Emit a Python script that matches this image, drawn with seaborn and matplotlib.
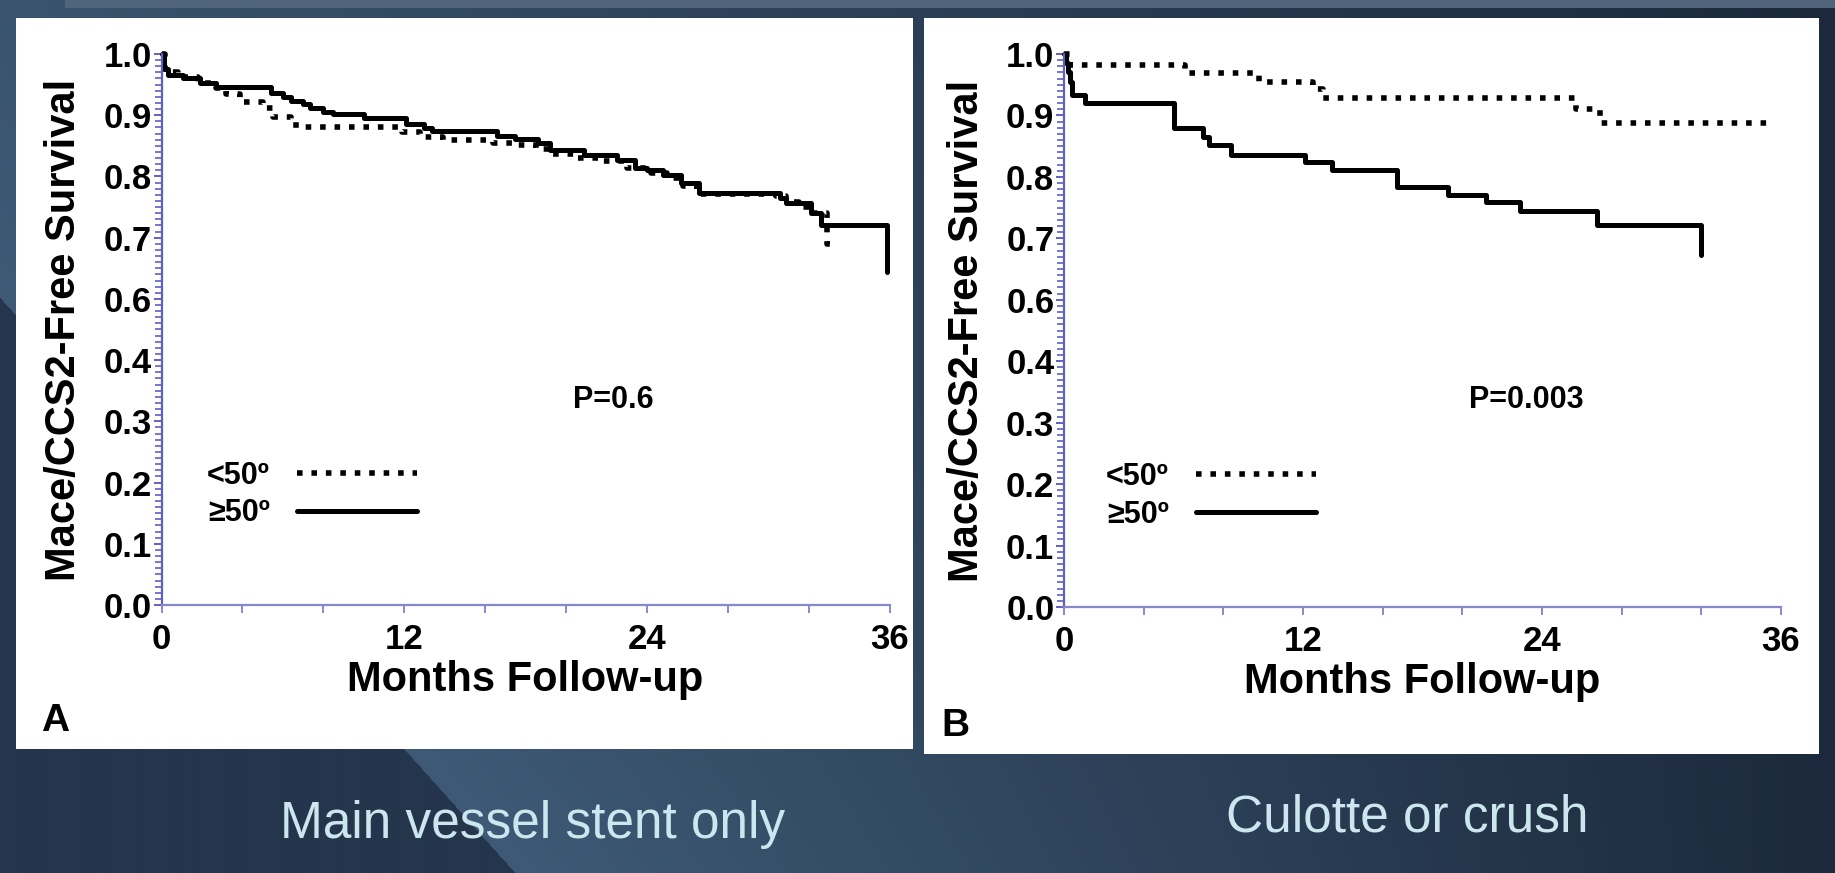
import numpy as np
import pandas as pd
import matplotlib
matplotlib.use("Agg")
import matplotlib.pyplot as plt
import seaborn as sns
from matplotlib.patches import Rectangle

# ---------------- data ----------------
# Panel A: main vessel stent only
a_lt50_t = [0, 0.15, 0.8, 1.8, 2.7, 3.2, 3.9, 5.0, 5.5, 6.4, 6.8, 11.9, 12.8, 13.9, 16.4,
            17.5, 18.5, 19.3, 20.5, 21.8, 23.0, 24.2, 25.0, 25.8, 26.5, 30.4, 30.9, 31.5,
            32.2, 32.9, 33.1]
a_lt50_s = [1.0, 0.970, 0.963, 0.953, 0.945, 0.935, 0.922, 0.912, 0.897, 0.884, 0.881, 0.872,
            0.865, 0.859, 0.855, 0.851, 0.845, 0.836, 0.830, 0.825, 0.813, 0.805, 0.797, 0.785,
            0.772, 0.768, 0.758, 0.750, 0.740, 0.690, 0.690]
a_ge50_t = [0, 0.1, 0.3, 1.07, 1.9, 2.7, 5.4, 6.0, 6.4, 7.0, 7.35, 8.0, 8.5, 10.0, 12.1, 13.0,
            13.4, 16.6, 17.5, 18.6, 19.2, 20.9, 22.5, 23.4, 24.0, 24.8, 25.7, 26.6, 30.6, 30.9,
            32.1, 32.6, 35.9]
a_ge50_s = [1.0, 0.975, 0.965, 0.960, 0.952, 0.946, 0.937, 0.930, 0.924, 0.918, 0.912, 0.906,
            0.902, 0.896, 0.886, 0.879, 0.875, 0.866, 0.861, 0.855, 0.843, 0.835, 0.827, 0.814,
            0.810, 0.803, 0.789, 0.773, 0.765, 0.756, 0.741, 0.721, 0.644]

# Panel B: culotte or crush
b_lt50_t = [0, 0.3, 6.1, 9.8, 12.5, 13.0, 25.7, 26.9, 35.4]
b_lt50_s = [1.0, 0.982, 0.969, 0.955, 0.943, 0.928, 0.910, 0.887, 0.887]
b_ge50_t = [0, 0.1, 0.2, 0.3, 0.4, 1.05, 5.5, 7.0, 7.3, 8.4, 12.1, 13.45, 16.7, 19.3, 21.2,
            22.9, 26.75, 32.0]
b_ge50_s = [1.0, 0.985, 0.970, 0.955, 0.933, 0.920, 0.879, 0.865, 0.852, 0.836, 0.824, 0.811,
            0.783, 0.770, 0.759, 0.745, 0.721, 0.673]

y_tick_values = [0.0, 0.1, 0.2, 0.3, 0.4, 0.6, 0.7, 0.8, 0.9, 1.0]
y_tick_labels = ["0.0", "0.1", "0.2", "0.3", "0.4", "0.6", "0.7", "0.8", "0.9", "1.0"]
x_tick_values = [0, 12, 24, 36]
group_labels = ["<50º", "≥50º"]
p_texts = ["P=0.6", "P=0.003"]
panel_letters = ["A", "B"]
subtitles = ["Main vessel stent only", "Culotte or crush"]

# ---------------- style ----------------
sns.set_theme(style="white")
plt.rcParams["font.family"] = ["Liberation Sans", "DejaVu Sans"]
plt.rcParams["font.weight"] = "bold"
plt.rcParams["text.color"] = "black"
plt.rcParams["axes.labelcolor"] = "black"
plt.rcParams["xtick.labelcolor"] = "black"
plt.rcParams["ytick.labelcolor"] = "black"

W, H = 1835, 873
fig = plt.figure(figsize=(W / 100, H / 100), dpi=100)

# background gradient
yy, xx = np.mgrid[0:H, 0:W].astype(float)
edge = 404 + (yy - 749) * (111 / 124)
c_left = np.array([36, 53, 76]) / 255
c_mid = np.array([62, 90, 118]) / 255
c_right = np.array([28, 41, 60]) / 255
frac = np.clip((xx - edge) / (W - edge), 0, 1)[..., None]
right_col = c_mid * (1 - frac) + c_right * frac
left_col = np.broadcast_to(c_left, (H, W, 3))
img = np.where((xx < edge)[..., None], left_col, right_col)
img[:8, 65:, :] = np.array([80, 100, 122]) / 255
bg = fig.add_axes([0, 0, 1, 1], zorder=-10)
bg.imshow(img, aspect="auto", interpolation="bilinear")
bg.axis("off")

# white panels
for (x0, y0, x1, y1) in [(16, 18, 913, 749), (924, 18, 1819, 754)]:
    fig.patches.append(Rectangle((x0 / W, 1 - y1 / H), (x1 - x0) / W, (y1 - y0) / H,
                                 transform=fig.transFigure, facecolor="white",
                                 edgecolor="none", zorder=-5))


def fwd(v):
    v = np.asarray(v, dtype=float)
    return np.where(v <= 0.4, v, np.where(v >= 0.6, v - 0.1, 0.4 + (v - 0.4) * 0.5))


def inv(p):
    p = np.asarray(p, dtype=float)
    return np.where(p <= 0.4, p, np.where(p >= 0.5, p + 0.1, 0.4 + (p - 0.4) * 2.0))


axA = fig.add_axes([161.5 / W, 1 - 605 / H, 728 / W, 551 / H])
axB = fig.add_axes([1064 / W, 1 - 607 / H, 717 / W, 553 / H])

panels = [
    (axA, (a_lt50_t, a_lt50_s), (a_ge50_t, a_ge50_s), (0.0625, 0.262), (0.565, 0.372), p_texts[0]),
    (axB, (b_lt50_t, b_lt50_s), (b_ge50_t, b_ge50_s), (0.0586, 0.262), (0.565, 0.374), p_texts[1]),
]

ycol = "#6060c2"
xcol = "#8888d0"

for ax, lt, ge, leg_pos, p_pos, ptxt in panels:
    ax.set_facecolor("none")
    df_lt = pd.DataFrame({"t": lt[0], "s": lt[1]})
    df_ge = pd.DataFrame({"t": ge[0], "s": ge[1]})
    sns.lineplot(data=df_lt, x="t", y="s", ax=ax, estimator=None, sort=False,
                 drawstyle="steps-post", color="black", lw=4.0,
                 linestyle=(0, (1, 1.6)), dash_capstyle="butt", clip_on=False,
                 label=group_labels[0])
    sns.lineplot(data=df_ge, x="t", y="s", ax=ax, estimator=None, sort=False,
                 drawstyle="steps-post", color="black", lw=3.6, clip_on=False,
                 label=group_labels[1])
    ax.set_yscale("function", functions=(fwd, inv))
    ax.set_xlim(0, 36)
    ax.set_ylim(0, 1.0)
    ax.set_xticks(x_tick_values)
    ax.set_xticks(np.arange(0, 37, 4), minor=True)
    ax.set_yticks(y_tick_values)
    ax.set_yticklabels(y_tick_labels)
    ax.set_yticks(inv(np.arange(0, 0.9001, 0.01)), minor=True)
    for s in ["top", "right"]:
        ax.spines[s].set_visible(False)
    ax.spines["left"].set_color(ycol)
    ax.spines["left"].set_linewidth(1.6)
    ax.spines["bottom"].set_color(xcol)
    ax.spines["bottom"].set_linewidth(1.6)
    ax.tick_params(axis="x", which="both", direction="out", length=6, width=1.4,
                   color=xcol, labelcolor="black", labelsize=25, pad=7, bottom=True)
    ax.tick_params(axis="y", which="major", direction="out", length=6, width=1.4,
                   color=ycol, labelcolor="black", labelsize=25, pad=1, left=True)
    ax.tick_params(axis="y", which="minor", direction="out", length=5, width=1.2,
                   color=ycol, left=True)
    for lab in ax.get_xticklabels() + ax.get_yticklabels():
        lab.set_fontweight("bold")
    ax.set_xlabel("Months Follow-up", fontsize=30, fontweight="bold", labelpad=3,
                  color="black")
    ax.set_ylabel("Mace/CCS2-Free Survival", fontsize=30, fontweight="bold", labelpad=14,
                  color="black")
    ax.legend(loc="upper left", bbox_to_anchor=leg_pos, frameon=False, markerfirst=False,
              fontsize=22, handlelength=3.9, handletextpad=0.9, labelspacing=0.25,
              borderpad=0, borderaxespad=0)
    ax.text(p_pos[0], p_pos[1], ptxt, transform=ax.transAxes, fontsize=22,
            fontweight="bold", ha="left", va="center", color="black")
    ax.grid(False)

fig.text(55 / W, 1 - 721 / H, panel_letters[0], fontsize=28, fontweight="bold",
         ha="center", va="center", color="black")
fig.text(955 / W, 1 - 726 / H, panel_letters[1], fontsize=28, fontweight="bold",
         ha="center", va="center", color="black")

fig.text(533 / W, 1 - 838 / H, subtitles[0], fontsize=37, fontweight="normal",
         color="#cbe6ee", ha="center", va="baseline")
fig.text(1407 / W, 1 - 831 / H, subtitles[1], fontsize=37, fontweight="normal",
         color="#cbe6ee", ha="center", va="baseline")

fig.savefig("out.png", dpi=100)
